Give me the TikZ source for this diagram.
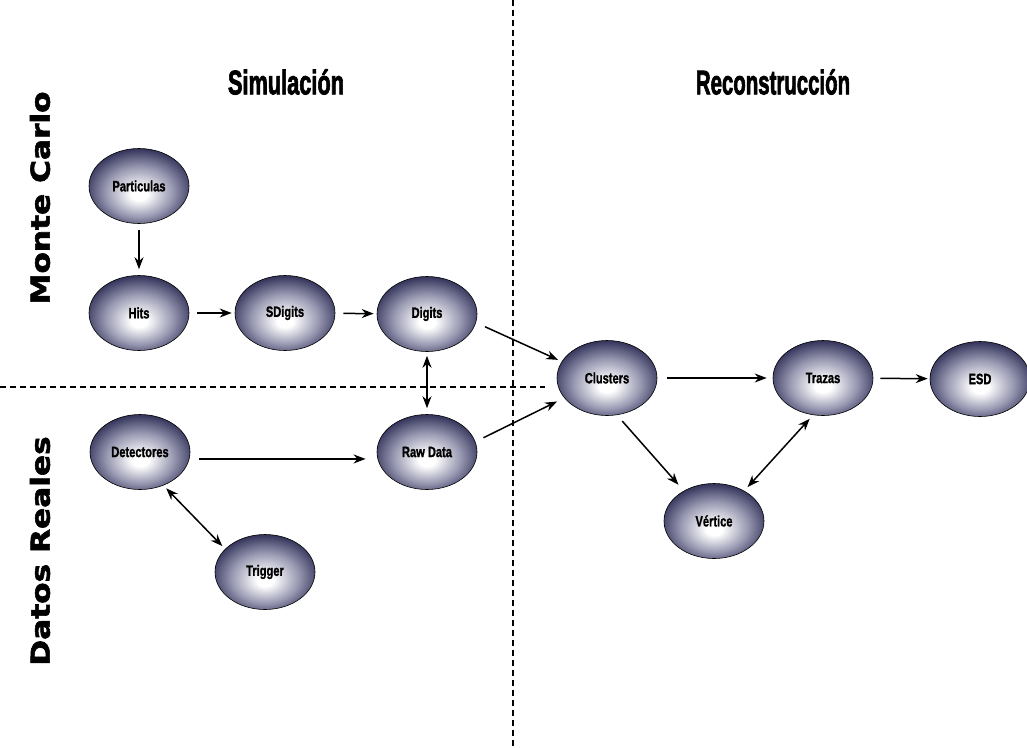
\documentclass[tikz,border=0pt]{standalone}
\usepackage{graphicx}
\usepackage{fontspec}
\setmainfont{Liberation Sans}
\newfontfamily\boldsans{Liberation Sans Bold}[FakeBold=1.5]
\newfontfamily\titlesans{Liberation Sans Bold}[FakeBold=2.6]
\newfontfamily\sidefont{DejaVu Sans Bold}[FakeBold=2]
\usetikzlibrary{shapes.geometric,arrows.meta}
\definecolor{ballnavy}{RGB}{22,22,52}
\definecolor{ballrim}{RGB}{48,48,88}
\definecolor{ballmid}{RGB}{150,150,176}
\pgfdeclareradialshading{ballshade}{\pgfpoint{0bp}{-6bp}}{color(0bp)=(white); color(4bp)=(white); color(17bp)=(ballmid); color(28bp)=(ballrim); color(34bp)=(ballnavy); color(50bp)=(ballnavy)}
\newcommand\lbl[1]{\scalebox{0.74}[1]{#1}}
\tikzset{
  ball/.style={ellipse, draw=black, line width=0.6pt, shading=ballshade,
    minimum width=100pt, minimum height=75pt, inner sep=0pt,
    font=\boldsans\fontsize{15}{15}\selectfont},
  arr/.style={-{Stealth[length=12pt,width=9pt]}, line width=1.5pt},
  darr/.style={{Stealth[length=12pt,width=9pt]}-{Stealth[length=12pt,width=9pt]}, line width=1.5pt},
  sepline/.style={dash pattern=on 6pt off 4pt, line width=2pt},
  title/.style={font=\titlesans\fontsize{34}{34}\selectfont},
  side/.style={rotate=90, font=\sidefont\fontsize{26}{26}\selectfont}
}
\begin{document}
\begin{tikzpicture}[x=1pt,y=-1pt]
\useasboundingbox[fill=white] (0,0) rectangle (1027,747);
% separators
\draw[sepline] (513,0) -- (513,747);
\draw[sepline] (0,387) -- (545,387);
% titles
\node[title] (sim) at (286,82) {\scalebox{0.64}[1]{Simulación}};
\node[title] (rec) at (773,82) {\scalebox{0.6}[1]{Reconstrucción}};
\node[side] (mc) at (40,198) {\scalebox{1.2}[1]{Monte Carlo}};
\node[side] (dr) at (40,551) {\scalebox{1.2}[1]{Datos Reales}};
% nodes
\node[ball] (part) at (139,186) {\lbl{Particulas}};
\node[ball] (hits) at (139,313) {\lbl{Hits}};
\node[ball] (sdig) at (285,313) {\lbl{SDigits}};
\node[ball] (dig) at (427,314) {\lbl{Digits}};
\node[ball] (det) at (140,452) {\lbl{Detectores}};
\node[ball] (raw) at (427,452) {\lbl{Raw Data}};
\node[ball] (trig) at (265,572) {\lbl{Trigger}};
\node[ball] (clu) at (607,378) {\lbl{Clusters}};
\node[ball] (tra) at (823,378) {\lbl{Trazas}};
\node[ball] (esd) at (980,379) {\lbl{ESD}};
\node[ball] (ver) at (714,521) {\lbl{Vértice}};
% connectors
\draw[arr, shorten <=6pt, shorten >=6pt] (part) -- (hits);
\draw[arr, shorten <=8pt, shorten >=3pt] (hits) -- (sdig);
\draw[arr, shorten <=8pt, shorten >=3pt] (sdig) -- (dig);
\draw[darr, shorten <=4pt, shorten >=6pt] (dig) -- (raw);
\draw[arr, shorten <=10pt, shorten >=4pt] (dig.-10) -- (clu.160);
\draw[arr, shorten <=9pt, shorten >=8pt] (raw.12) -- (clu.205);
\draw[arr, shorten <=10pt, shorten >=12pt] (det.-8) -- (raw.188);
\draw[darr, shorten <=4pt, shorten >=4pt] (det.-55) -- (trig.150);
\draw[arr, shorten <=10pt, shorten >=6pt] (clu.east) -- (tra.west);
\draw[arr, shorten <=7pt, shorten >=2pt] (tra) -- (esd);
\draw[arr, shorten <=8pt, shorten >=8pt] (clu.-75) -- (ver.135);
\draw[darr, shorten <=5pt, shorten >=5pt] (ver.45) -- (tra.-105);
\end{tikzpicture}
\end{document}
